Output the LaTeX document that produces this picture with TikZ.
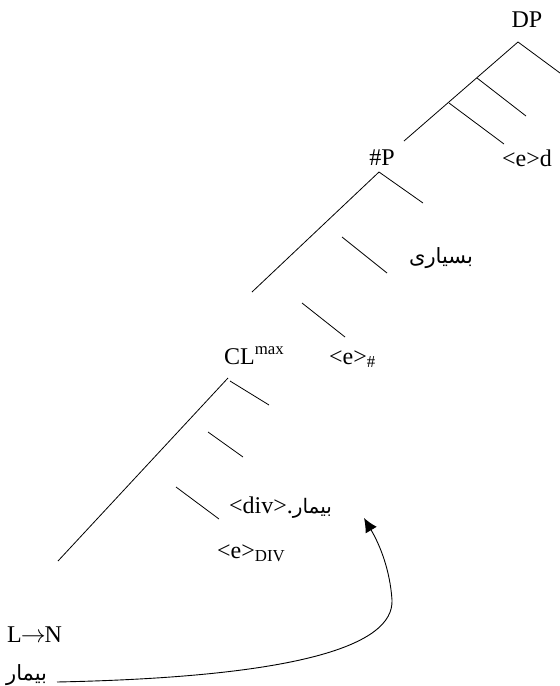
\documentclass[tikz,border=0pt]{standalone}
\usepackage{fontspec}
\setmainfont{Liberation Serif}
\newfontfamily\arabicfont[Script=Arabic]{DejaVu Sans}
\TeXXeTstate=1
\usetikzlibrary{arrows.meta}
\begin{document}
\begin{tikzpicture}[x=1pt,y=-1pt,
  lbl/.style={inner sep=0pt,font=\fontsize{24}{28}\selectfont},
  arlbl/.style={inner sep=0pt,font=\fontsize{21}{25}\selectfont\arabicfont},
  br/.style={line width=0.8pt}]
\useasboundingbox (0,0) rectangle (560,686);
% labels
\node[lbl] (dp) at (527,20) {DP};
\node[lbl] (np) at (382,158) {\#P};
\node[lbl] (ed) at (527,158) {<e>d};
\node[arlbl] (bsy) at (441,258) {\beginR بسیاری\endR};
\node[lbl,anchor=base west] (cl) at (224,364) {CL\textsuperscript{max}};
\node[lbl,anchor=base west] (eh) at (329,364) {<e>\textsubscript{\#}};
\node[lbl,anchor=base west] (div) at (229,513) {<div>.{\arabicfont\fontsize{20}{24}\selectfont\beginR بیمار\endR}};
\node[lbl,anchor=base west] (ediv) at (217,558) {<e>\textsubscript{DIV}};
\node[lbl,anchor=base west] (ln) at (7,642) {L\kern-1pt$\rightarrow$\kern-1pt N};
\node[arlbl,anchor=base west] (bim) at (6,680) {\beginR بیمار\endR};
% tree coordinates
\coordinate (dpA) at (518,42);
\coordinate (dpR) at (560,73);
\coordinate (dpL) at (404,141);
\coordinate (d1) at (477,78);
\coordinate (d1e) at (526,116);
\coordinate (d2) at (449,103);
\coordinate (d2e) at (504,144);
\coordinate (npA) at (379,172);
\coordinate (npR) at (423,203);
\coordinate (npL) at (252,292);
\coordinate (n1s) at (342,237);
\coordinate (n1e) at (387,273);
\coordinate (n2s) at (302,303);
\coordinate (n2e) at (345,337);
\coordinate (clA) at (228,378);
\coordinate (clL) at (58,561);
\coordinate (c1s) at (230,381);
\coordinate (c1e) at (269,405);
\coordinate (c2s) at (208,432);
\coordinate (c2e) at (243,457);
\coordinate (c3s) at (176,487);
\coordinate (c3e) at (219,519);
\coordinate (tailS) at (57,682);
\coordinate (mid) at (392,600);
\coordinate (tip) at (364,518);
% branches
\draw[br] (dpA) -- (dpR);
\draw[br] (dpA) -- (dpL);
\draw[br] (d1) -- (d1e);
\draw[br] (d2) -- (d2e);
\draw[br] (npA) -- (npR);
\draw[br] (npA) -- (npL);
\draw[br] (n1s) -- (n1e);
\draw[br] (n2s) -- (n2e);
\draw[br] (clA) -- (clL);
\draw[br] (c1s) -- (c1e);
\draw[br] (c2s) -- (c2e);
\draw[br] (c3s) -- (c3e);
% movement arrow
\draw[line width=0.9pt,-{Latex[length=14pt,width=13pt]}] (tailS) .. controls (300,677) and (394,645) .. (mid) .. controls (390,570) and (380,545) .. (tip);
\end{tikzpicture}
\end{document}
